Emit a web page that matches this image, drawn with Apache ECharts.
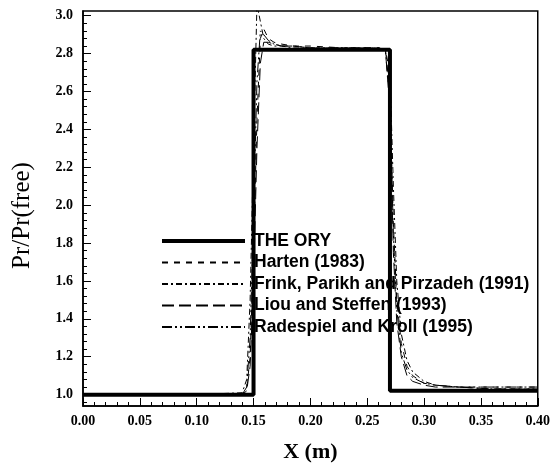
<!DOCTYPE html>
<html>
<head>
<meta charset="utf-8">
<script src="https://cdn.jsdelivr.net/npm/echarts@6/dist/echarts.min.js"></script>
<style>
  html, body { margin: 0; padding: 0; background: #fff; }
  #chart { width: 553px; height: 468px; }
</style>
</head>
<body>
<div id="chart"></div>
<script>
// Pressure ratio along the tube: exact solution and four flux schemes
const seriesNames = [
  'THE ORY',
  'Harten (1983)',
  'Frink, Parikh and Pirzadeh (1991)',
  'Liou and Steffen (1993)',
  'Radespiel and Kroll (1995)'
];

// exact (theory) profile
const theoryX = [0.00, 0.15, 0.15, 0.27, 0.27, 0.40];
const theoryY = [1.00, 1.00, 2.82, 2.82, 1.02, 1.02];

// sample stations of the numerical results
const schemeX = [0.00, 0.10, 0.140, 0.144, 0.147, 0.150, 0.153, 0.156, 0.159, 0.163, 0.168, 0.175, 0.185,
                 0.20, 0.23, 0.26, 0.266, 0.270, 0.273, 0.276, 0.280, 0.285, 0.29, 0.30, 0.31, 0.33, 0.36, 0.40];
const harten    = [1.00, 1.00, 1.00, 1.03, 1.20, 1.75, 2.45, 2.88, 2.93, 2.88, 2.86, 2.85, 2.84,
                   2.84, 2.83, 2.83, 2.82, 2.60, 1.90, 1.50, 1.27, 1.15, 1.10, 1.06, 1.05, 1.04, 1.04, 1.04];
const frink     = [1.00, 1.00, 1.01, 1.08, 1.50, 2.30, 3.06, 2.97, 2.88, 2.85, 2.84, 2.84, 2.83,
                   2.83, 2.83, 2.83, 2.82, 2.70, 2.10, 1.60, 1.32, 1.18, 1.12, 1.07, 1.05, 1.04, 1.03, 1.03];
const liou      = [1.00, 1.00, 1.00, 1.02, 1.15, 1.60, 2.30, 2.75, 2.86, 2.86, 2.85, 2.84, 2.84,
                   2.83, 2.83, 2.83, 2.82, 2.50, 1.75, 1.38, 1.20, 1.10, 1.07, 1.05, 1.04, 1.04, 1.03, 1.03];
const radespiel = [1.00, 1.00, 1.00, 1.04, 1.30, 1.95, 2.65, 2.92, 2.90, 2.87, 2.85, 2.84, 2.84,
                   2.83, 2.83, 2.83, 2.81, 2.55, 1.85, 1.45, 1.22, 1.13, 1.09, 1.06, 1.05, 1.04, 1.04, 1.04];

// axis ticks
const yTickLabels = [1.0, 1.2, 1.4, 1.6, 1.8, 2.0, 2.2, 2.4, 2.6, 2.8, 3.0];
const yMinorTicks = [];
for (let i = 24; i <= 75; i++) yMinorTicks.push(+(i * 0.04).toFixed(2));

const pairs = (xs, ys) => xs.map((x, i) => [x, ys[i]]);

const tickFont = { fontFamily: 'Liberation Serif', fontWeight: 'bold', fontSize: 14, color: '#000' };

const thin = (name, data, dash) => ({
  name, type: 'line', data: pairs(schemeX, data), symbol: 'none',
  lineStyle: { color: '#000', width: 1, type: dash },
  itemStyle: { color: '#000' },
  animation: false, z: 3
});

const chart = echarts.init(document.getElementById('chart'), null, { renderer: 'canvas' });
chart.setOption({
  backgroundColor: '#fff',
  animation: false,
  grid: { left: 83, right: 13, top: 11, bottom: 60, show: true, borderColor: '#000', borderWidth: 1.5 },
  legend: {
    orient: 'vertical', left: 155, top: 227,
    itemWidth: 83, itemHeight: 14, itemGap: 3.5,
    itemStyle: { opacity: 0 },
    textStyle: { fontFamily: 'Liberation Sans', fontWeight: 'bold', fontSize: 17.5, color: '#000', padding: [0, 0, 0, 4] },
    data: [
      { name: seriesNames[0], lineStyle: { width: 4 } },
      seriesNames[1], seriesNames[2], seriesNames[3], seriesNames[4]
    ]
  },
  xAxis: {
    type: 'value', min: 0, max: 0.40, interval: 0.05,
    name: 'X (m)', nameLocation: 'middle', nameGap: 35,
    nameTextStyle: { fontFamily: 'Liberation Serif', fontWeight: 'bold', fontSize: 22, color: '#000' },
    axisLine: { show: true, lineStyle: { color: '#000', width: 1.5 } },
    axisTick: { show: true, inside: true, length: 8, lineStyle: { color: '#000', width: 1 } },
    minorTick: { show: true, splitNumber: 5, length: 4, lineStyle: { color: '#000', width: 1 } },
    axisLabel: Object.assign({ margin: 8, formatter: v => v.toFixed(2) }, tickFont),
    splitLine: { show: false }
  },
  yAxis: [{
    type: 'value', min: 0.94, max: 3.025,
    name: 'Pr/Pr(free)', nameLocation: 'middle', nameGap: 48,
    nameTextStyle: { fontFamily: 'Liberation Serif', fontSize: 25, color: '#000', padding: [0, 14, 0, 0] },
    axisLine: { show: true, lineStyle: { color: '#000', width: 1.5 } },
    axisTick: { show: true, inside: true, length: 8, customValues: yTickLabels, lineStyle: { color: '#000', width: 1 } },
    axisLabel: Object.assign({ margin: 10, customValues: yTickLabels, formatter: v => v.toFixed(1) }, tickFont),
    splitLine: { show: false }
  }, {
    type: 'value', min: 0.94, max: 3.025, position: 'left',
    axisLine: { show: false },
    axisTick: { show: true, inside: true, length: 4, customValues: yMinorTicks, lineStyle: { color: '#000', width: 1 } },
    axisLabel: { show: false },
    splitLine: { show: false }
  }],
  series: [
    {
      name: seriesNames[0], type: 'line', data: pairs(theoryX, theoryY), symbol: 'none',
      lineStyle: { color: '#000', width: 4 }, itemStyle: { color: '#000' }, z: 4
    },
    thin(seriesNames[1], harten, [6, 6]),
    thin(seriesNames[2], frink, [6, 3, 2, 3]),
    thin(seriesNames[3], liou, [12, 5]),
    thin(seriesNames[4], radespiel, [10, 3, 2, 3, 2, 3])
  ]
});
</script>
</body>
</html>
